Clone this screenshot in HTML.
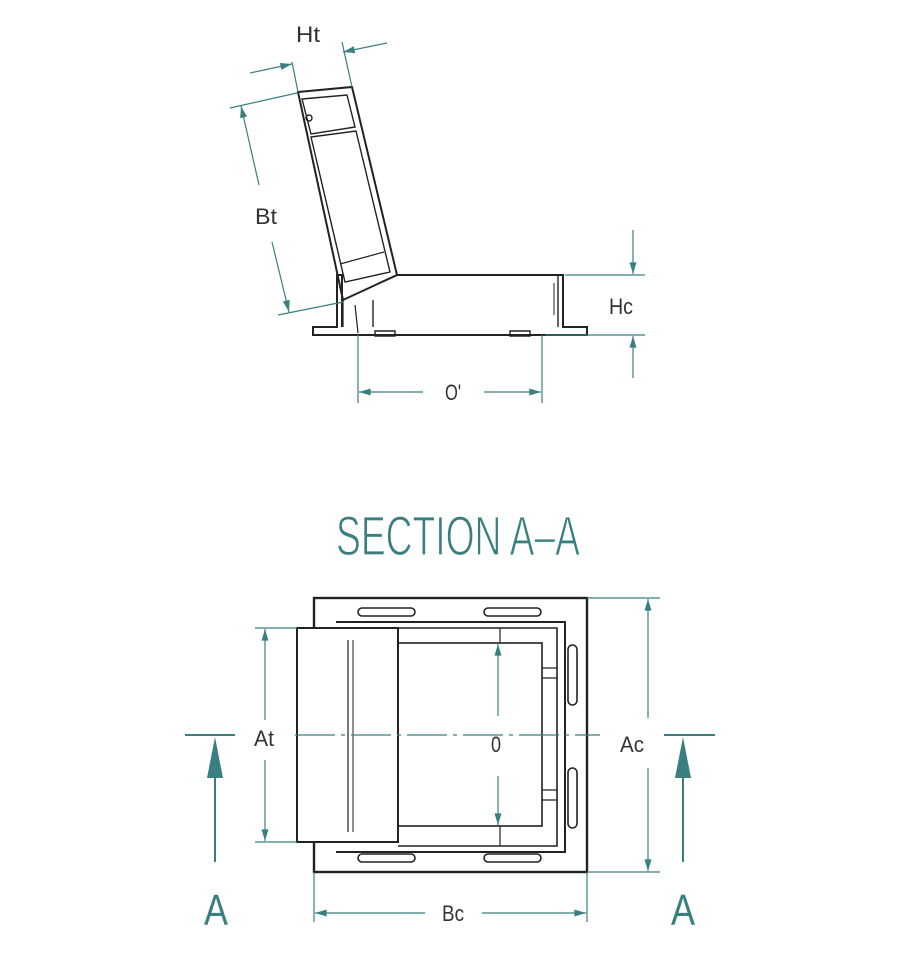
<!DOCTYPE html>
<html><head><style>html,body{margin:0;padding:0;background:#fff}svg{display:block}</style></head><body>
<svg width="900" height="962" viewBox="0 0 900 962" xmlns="http://www.w3.org/2000/svg" font-family="Liberation Sans, sans-serif">
<defs>
<marker id="ar" viewBox="0 0 10 6" refX="10" refY="3" markerWidth="20" markerHeight="7" markerUnits="userSpaceOnUse" orient="auto"><path d="M0,0 L10,3 L0,6z" fill="#3a7f80"/></marker>
</defs>
<g stroke="#222" fill="none" stroke-width="2">
<path d="M298,92 L352,87 L397,275 L343,300 Z"/>
<path d="M302,99 L347,95 L355,127 L311,134 Z" stroke-width="1.4"/>
<path d="M311,137 L356,131 L390,272 L345,282 Z" stroke-width="1.4"/>
<line x1="340" y1="264" x2="384" y2="252" stroke-width="1.2"/>
<circle cx="309" cy="118" r="3" stroke-width="1.4"/>
<path d="M397,275 L563,275 L563,327 L587,327 L587,335 L313,335 L313,327 L337,327 L337,275 L342,275 L342,327" stroke-width="2"/>
<line x1="558" y1="275" x2="558" y2="327" stroke-width="1.4"/>
<line x1="554" y1="283" x2="554" y2="315" stroke-width="1"/>
<line x1="373" y1="300" x2="373" y2="327" stroke-width="1.4"/>
<path d="M343,300 L343,327 M355,305 L358,333" stroke-width="1.2"/>
<path d="M375,331 L395,331 L395,336 L375,336Z M510,331 L530,331 L530,336 L510,336Z" stroke-width="1.4"/>
<rect x="314" y="598" width="273" height="274" stroke-width="2.4"/>
<path d="M336,622 L565,622 L565,852 L336,852" stroke-width="2"/>
<path d="M398,628 L557,628 L557,846 L398,846" stroke-width="1.6"/>
<rect x="398" y="643" width="144" height="183" stroke-width="1.6"/>
<line x1="500" y1="628" x2="500" y2="643" stroke-width="1.2"/>
<line x1="500" y1="826" x2="500" y2="846" stroke-width="1.2"/>
<path d="M542,668 L557,668 M542,678 L557,678 M542,790 L557,790 M542,800 L557,800" stroke-width="1.2"/>
<rect x="358" y="608" width="57" height="8" rx="4" stroke-width="1.6"/>
<rect x="484" y="608" width="57" height="8" rx="4" stroke-width="1.6"/>
<rect x="358" y="854" width="57" height="8" rx="4" stroke-width="1.6"/>
<rect x="484" y="854" width="57" height="8" rx="4" stroke-width="1.6"/>
<rect x="568" y="645" width="9" height="60" rx="4.5" stroke-width="1.6"/>
<rect x="568" y="768" width="9" height="60" rx="4.5" stroke-width="1.6"/>
<rect x="297" y="628" width="101" height="214" stroke-width="2" fill="#fff"/>
<line x1="348" y1="640" x2="348" y2="832" stroke-width="1.2"/>
<line x1="353" y1="640" x2="353" y2="832" stroke-width="1"/>
</g>
<g stroke="#3a7f80" stroke-width="1.2" fill="none">
<line x1="292" y1="62" x2="298" y2="92"/><line x1="342" y1="42" x2="352" y2="87"/>
<line x1="250" y1="73" x2="292" y2="64" marker-end="url(#ar)"/>
<line x1="387" y1="43" x2="343" y2="52" marker-end="url(#ar)"/>
<line x1="230" y1="108" x2="297" y2="93"/><line x1="278" y1="315" x2="343" y2="302"/>
<line x1="259" y1="185" x2="241" y2="106" marker-end="url(#ar)"/>
<line x1="272" y1="242" x2="289" y2="312" marker-end="url(#ar)"/>
<line x1="565" y1="275" x2="645" y2="275"/><line x1="545" y1="335" x2="645" y2="335"/>
<line x1="633" y1="230" x2="633" y2="274" marker-end="url(#ar)"/>
<line x1="633" y1="378" x2="633" y2="336" marker-end="url(#ar)"/>
<line x1="358" y1="335" x2="358" y2="403"/><line x1="542" y1="335" x2="542" y2="403"/>
<line x1="423" y1="392" x2="359" y2="392" marker-end="url(#ar)"/>
<line x1="484" y1="392" x2="541" y2="392" marker-end="url(#ar)"/>
<line x1="295" y1="735" x2="600" y2="735" stroke-dasharray="40,6,4,6"/>
<line x1="255" y1="628" x2="297" y2="628"/><line x1="255" y1="842" x2="297" y2="842"/>
<line x1="265" y1="720" x2="265" y2="629" marker-end="url(#ar)"/>
<line x1="265" y1="760" x2="265" y2="841" marker-end="url(#ar)"/>
<line x1="498" y1="716" x2="498" y2="644" marker-end="url(#ar)"/>
<line x1="498" y1="776" x2="498" y2="825" marker-end="url(#ar)"/>
<line x1="587" y1="598" x2="660" y2="598"/><line x1="587" y1="872" x2="660" y2="872"/>
<line x1="648" y1="718" x2="648" y2="599" marker-end="url(#ar)"/>
<line x1="648" y1="768" x2="648" y2="871" marker-end="url(#ar)"/>
<line x1="314" y1="872" x2="314" y2="922"/><line x1="587" y1="872" x2="587" y2="922"/>
<line x1="425" y1="913" x2="315" y2="913" marker-end="url(#ar)"/>
<line x1="482" y1="913" x2="586" y2="913" marker-end="url(#ar)"/>
<line x1="185" y1="735" x2="235" y2="735" stroke-width="2"/>
<line x1="215" y1="862" x2="215" y2="776" stroke-width="2"/>
<line x1="664" y1="735" x2="715" y2="735" stroke-width="2"/>
<line x1="683" y1="862" x2="683" y2="776" stroke-width="2"/>
</g>
<path d="M215,737 L207,778 L223,778Z M683,737 L675,778 L691,778Z" fill="#3a7f80"/>
<g fill="#333" font-size="22">
<text x="308" y="42" text-anchor="middle" textLength="24" lengthAdjust="spacingAndGlyphs">Ht</text>
<text x="266" y="224" text-anchor="middle" textLength="22" lengthAdjust="spacingAndGlyphs">Bt</text>
<text x="621" y="314" text-anchor="middle" textLength="24" lengthAdjust="spacingAndGlyphs">Hc</text>
<text x="453" y="400" text-anchor="middle" textLength="16" lengthAdjust="spacingAndGlyphs">O'</text>
<text x="264" y="746" text-anchor="middle" textLength="20" lengthAdjust="spacingAndGlyphs">At</text>
<text x="496" y="752" text-anchor="middle" textLength="10" lengthAdjust="spacingAndGlyphs">0</text>
<text x="632" y="752" text-anchor="middle" textLength="24" lengthAdjust="spacingAndGlyphs">Ac</text>
<text x="453" y="921" text-anchor="middle" textLength="22" lengthAdjust="spacingAndGlyphs">Bc</text>
</g>
<text x="336" y="555" font-size="56" fill="#3a7f80" stroke="#fff" stroke-width="1.2" textLength="244" lengthAdjust="spacingAndGlyphs">SECTION A–A</text>
<text x="216" y="925" font-size="44" fill="#3a7f80" text-anchor="middle" textLength="24" lengthAdjust="spacingAndGlyphs">A</text>
<text x="683" y="925" font-size="44" fill="#3a7f80" text-anchor="middle" textLength="24" lengthAdjust="spacingAndGlyphs">A</text>
</svg>
</body></html>
